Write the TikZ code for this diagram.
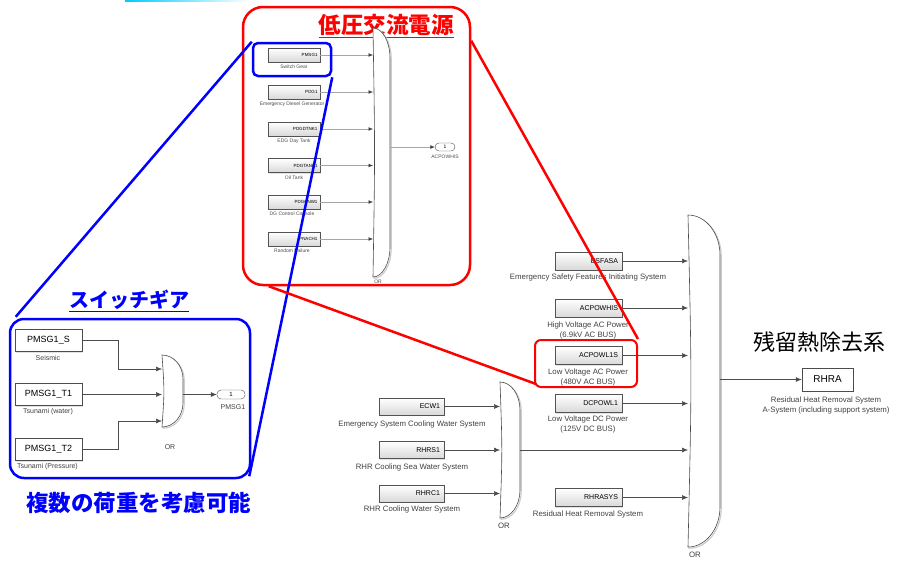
\documentclass[tikz,border=0pt]{standalone}
\usepackage{fontspec}
\setmainfont{Liberation Sans}
\newfontfamily\cjk{Noto Sans CJK JP}
\usetikzlibrary{arrows.meta,shadows}
\newcommand\orpath[5]{(#1,#3) .. controls ({#1+0.55*(#2-#1)},#3) and (#2,{#3+0.45*#5}) .. (#2,{#3+#5}) -- (#2,{#4-#5}) .. controls (#2,{#4-0.45*#5}) and ({#1+0.55*(#2-#1)},#4) .. (#1,#4) .. controls ({#1+0.12*(#2-#1)},{0.5*(#3+#4)}) .. (#1,#3) -- cycle}
\newcommand\orgate[5]{%
  \draw[gshadow,shift={(1.2,1.2)}] \orpath{#1}{#2}{#3}{#4}{#5};
  \draw[gate] \orpath{#1}{#2}{#3}{#4}{#5};}
\begin{document}
\begin{tikzpicture}[x=1pt,y=-1pt,
  wire/.style={draw=black!70, line width=0.6pt, -{Latex[length=6pt,width=5pt]}},
  wirer/.style={draw=gray!70, line width=0.5pt, -{Latex[length=4.5pt,width=3.8pt,color=black!75]}},
  gate/.style={draw=black!70, line width=0.6pt, fill=white},
  gshadow/.style={draw=gray!40, line width=1.2pt},
  sblock/.style={draw=gray!65!black, line width=0.4pt, top color=white, bottom color=gray!30,
     drop shadow={shadow xshift=1pt,shadow yshift=-1pt,fill=gray!45}, inner sep=0pt, align=right},
  mblock/.style={sblock, text width=59pt, inner xsep=4pt, minimum height=18pt, font=\fontsize{7}{8}\selectfont},
  sgblock/.style={sblock, text width=57pt, inner xsep=4pt, minimum height=17pt, font=\fontsize{7}{8}\selectfont},
  rblock/.style={sblock, text width=47pt, inner xsep=2.5pt, minimum height=14pt, font=\fontsize{4.5}{5}\selectfont},
  bblock/.style={draw=gray!60!black, line width=0.5pt, fill=white, drop shadow={shadow xshift=1pt,shadow yshift=-1pt,fill=gray!45},
     minimum width=67pt, minimum height=22pt, inner sep=0pt, font=\fontsize{9}{10}\selectfont},
  lbl/.style={font=\fontsize{7.8}{10}\selectfont, text=black!75, align=center, inner sep=0pt},
  rlbl/.style={font=\fontsize{5}{6}\selectfont, text=black!70, align=center, inner sep=0pt},
  blbl/.style={font=\fontsize{7}{8}\selectfont, text=black!75, align=center, inner sep=0pt},
  port/.style={draw=black!70, fill=white, rounded corners=4pt, inner sep=0pt},
]
\useasboundingbox (0,0) rectangle (897,560);
% faint header line
\fill[left color=cyan!80!blue, right color=white] (125,0) rectangle (250,1.5);

% ===== red box (low-voltage AC power) =====
\node[draw=red, line width=2.5pt, rounded corners=20pt, minimum width=227pt, minimum height=278pt, inner sep=0pt] (redbox) at (356.5,146) {};
\node[text=red, font=\cjk\bfseries\fontsize{22.5}{24}\selectfont, inner sep=0pt] (ttlred) at (386,26) {\underline{低圧交流電源}};
\orgate{373}{390}{28}{277}{30}
\coordinate (gRin) at (373,0);
\coordinate (gRout) at (390,147);
\node[rblock] (pmsg1) at (294,55) {PMSG1};
\node[rblock] (pdg1) at (294,92) {PDG1};
\node[rblock] (pdgd) at (294,129) {PDGDTNK1};
\node[rblock] (pdgt) at (294,165.5) {PDGTANK1};
\node[rblock] (pdgc) at (294,202) {PDGCNW1};
\node[rblock] (pnac) at (294,239) {PNACH1};
\node[rlbl] (l-pmsg1) at (294,67) {Switch Gear};
\node[rlbl] (l-pdg1) at (292,104) {Emergency Diesel Generator};
\node[rlbl] (l-pdgd) at (294,141) {EDG Day Tank};
\node[rlbl] (l-pdgt) at (294,178) {Oil Tank};
\node[rlbl] (l-pdgc) at (292,214) {DG Control Console};
\node[rlbl] (l-pnac) at (292,251) {Random Failure};
\foreach \b in {pmsg1,pdg1,pdgd,pdgt,pdgc,pnac}
  \draw[wirer] (\b.east) -- (\b.east -| gRin);
\node[port, minimum width=20pt, minimum height=8pt, font=\fontsize{5}{5}\selectfont] (portR) at (445,147) {1};
\draw[wirer] (gRout) -- (portR.west);
\node[rlbl] (l-portR) at (445,157) {ACPOWHIS};
\node[rlbl] (l-gR) at (378,282) {OR};

% ===== blue box (switch gear) =====
\node[draw=blue, line width=2.5pt, rounded corners=14pt, minimum width=240pt, minimum height=159pt, inner sep=0pt] (bluebox) at (130,398.5) {};
\node[text=blue, font=\cjk\bfseries\fontsize{20}{22}\selectfont, inner sep=0pt] (ttlblue) at (129,301) {\underline{スイッチギア}};
\orgate{162}{183}{355}{427}{24}
\coordinate (bx) at (118,0);
\coordinate (gBin1) at (162,369);
\coordinate (gBin2) at (162,394.5);
\coordinate (gBin3) at (162,421);
\coordinate (gBout) at (183,394.5);
\node[bblock] (pmsgS) at (48.5,340.5) {PMSG1\_S};
\node[bblock] (pmsgT1) at (48.5,394.5) {PMSG1\_T1};
\node[bblock] (pmsgT2) at (48.5,449.5) {PMSG1\_T2};
\node[blbl] (l-pmsgS) at (48,358) {Seismic};
\node[blbl] (l-pmsgT1) at (48,412) {Tsunami (water)};
\node[blbl] (l-pmsgT2) at (47.5,467) {Tsunami (Pressure)};
\draw[wire] (pmsgS.east) -- (pmsgS.east -| bx) |- (gBin1);
\draw[wire] (pmsgT1.east) -- (gBin2);
\draw[wire] (pmsgT2.east) -- (pmsgT2.east -| bx) |- (gBin3);
\node[port, minimum width=28pt, minimum height=9pt, font=\fontsize{6}{6}\selectfont] (portB) at (231,394.5) {1};
\draw[wire] (gBout) -- (portB.west);
\node[blbl] (l-portB) at (233,407) {PMSG1};
\node[blbl] (l-gB) at (170,447) {OR};
\node[text=blue, font=\cjk\bfseries\fontsize{22.5}{24}\selectfont, inner sep=0pt] (ttlload) at (139,503) {複数の荷重を考慮可能};

% ===== small OR (cooling water) =====
\orgate{500}{520}{382}{518}{28}
\coordinate (gSin) at (500,0);
\coordinate (gSout) at (520,450);
\node[sgblock] (ecw1) at (411.5,406.5) {ECW1};
\node[sgblock] (rhrs1) at (411.5,450) {RHRS1};
\node[sgblock] (rhrc1) at (411.5,493.5) {RHRC1};
\node[lbl] (l-ecw1) at (412,424) {Emergency System Cooling Water System};
\node[lbl] (l-rhrs1) at (412,467) {RHR Cooling Sea Water System};
\node[lbl] (l-rhrc1) at (412,509) {RHR Cooling Water System};
\foreach \b in {ecw1,rhrs1,rhrc1}
  \draw[wire] (\b.east) -- (\b.east -| gSin);
\node[lbl] (l-gS) at (504,526) {OR};

% ===== main OR =====
\orgate{688}{720}{215}{547}{40}
\coordinate (gMin) at (688,0);
\coordinate (gMout) at (720,379.5);
\node[mblock] (esfasa) at (588.5,261) {ESFASA};
\node[mblock] (acpowh) at (588.5,308) {ACPOWHIS};
\node[mblock] (acpowl) at (588.5,355.5) {ACPOWL1S};
\node[mblock] (dcpow) at (588.5,403.5) {DCPOWL1};
\node[mblock] (rhrasys) at (588.5,497.5) {RHRASYS};
\node[lbl] (l-esfasa) at (588,277) {Emergency Safety Features Initiating System};
\node[lbl] (l-acpowh) at (588,330) {High Voltage AC Power\\(6.9kV AC BUS)};
\node[lbl] (l-acpowl) at (588,377) {Low Voltage AC Power\\(480V AC BUS)};
\node[lbl] (l-dcpow) at (588,424) {Low Voltage DC Power\\(125V DC BUS)};
\node[lbl] (l-rhrasys) at (588,514) {Residual Heat Removal System};
\foreach \b in {esfasa,acpowh,acpowl,dcpow,rhrasys}
  \draw[wire] (\b.east) -- (\b.east -| gMin);
\draw[wire] (gSout) -- (gSout -| gMin);
\node[lbl] (l-gM) at (695,555) {OR};
\node[draw=gray!60!black, line width=0.5pt, fill=white, drop shadow={shadow xshift=1pt,shadow yshift=-1pt,fill=gray!45},
  minimum width=51pt, minimum height=23pt, inner sep=0pt, font=\fontsize{10}{10}\selectfont] (rhra) at (827.5,379.5) {RHRA};
\draw[wire] (gMout) -- (rhra.west);
\node[lbl] (l-rhra) at (826,405) {Residual Heat Removal System\\A-System (including support system)};
\node[font=\cjk\fontsize{22}{24}\selectfont, inner sep=0pt] (ttlrhr) at (819.5,342) {残留熱除去系};

% ===== highlight boxes and zoom lines =====
\node[draw=blue, line width=2.5pt, rounded corners=5pt, minimum width=78pt, minimum height=33pt, inner sep=0pt] (hlP) at (292,59.5) {};
\node[draw=red, line width=2pt, rounded corners=6pt, minimum width=102pt, minimum height=47pt, inner sep=0pt] (hlA) at (586,363.5) {};
\draw[blue, line width=2.5pt] ([xshift=7pt,yshift=1pt]bluebox.north west) -- (hlP.north west);
\draw[blue, line width=2.5pt] (hlP.south east) -- ([xshift=-2pt,yshift=3pt]bluebox.south east);
\draw[red, line width=2.5pt] ([xshift=27pt]redbox.south west) -- ([xshift=2pt,yshift=4pt]hlA.south west);
\draw[red, line width=2.5pt] ([yshift=-35pt]redbox.north east) -- (hlA.north east);
\end{tikzpicture}
\end{document}
